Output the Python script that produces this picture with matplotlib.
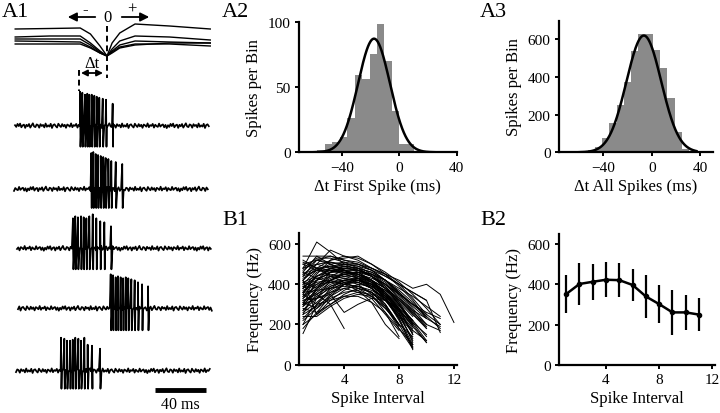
import numpy as np
import matplotlib.pyplot as plt

plt.rcParams['font.family'] = ['Liberation Serif', 'DejaVu Serif']

W, H = 720, 414

# ---------------- A1: example bursts ----------------
# spike times (ms from start of each sweep)
trace_spikes = [
    [51.0, 52.8, 54.9, 56.7, 58.3, 60.2, 62.2, 64.1, 66.1, 68.8, 71.4, 76.6],
    [60.6, 62.2, 64.1, 65.9, 68.0, 70.0, 71.9, 74.0, 76.3, 79.8, 84.9],
    [43.9, 45.7, 47.8, 50.2, 52.3, 54.4, 56.7, 59.4, 62.2, 65.3, 68.5, 73.7],
    [72.7, 74.5, 76.6, 78.4, 80.5, 82.4, 84.5, 86.5, 88.9, 91.5, 94.1, 97.3, 102.0],
    [35.3, 37.9, 40.0, 42.4, 44.5, 46.5, 48.9, 51.0, 53.6, 56.2, 59.6, 65.9],
]
trace_up = [
    [34, 33, 31, 32, 31, 31, 30, 29, 28, 27, 26, 22],
    [36, 37, 35, 34, 33, 32, 31, 30, 28, 27, 25],
    [30, 32, 31, 32, 31, 30, 32, 34, 30, 27, 26, 22],
    [34, 33, 31, 32, 31, 30, 31, 30, 29, 28, 26, 24, 22],
    [33, 32, 30, 30, 31, 33, 32, 30, 33, 26, 25, 22],
]
trace_down = [21, 19, 21, 22, 18]
noise = [0.5, -1.2, 1.8, -0.4, 2.1, -1.6, 0.3, 1.1, -2.2, 0.9, -0.6, 1.7,
         -1.9, 0.2, 2.4, -0.8, -1.4, 1.3, 0.6, -2.0, 1.5, -0.3, 0.8, -1.7,
         2.2, -1.1, 0.4, -0.9, 1.9, -2.3, 0.7, 1.4, -0.5, -1.8, 2.0, 0.1,
         -1.3, 1.6, -0.7, 0.9, -2.1, 1.2, 0.3, -1.0, 2.3, -1.5, 0.6, -0.2,
         1.8, -1.9, 1.0, -0.4, -1.2, 2.1, -0.9, 0.5, 1.3, -1.6, 0.8, -2.4]
sweep_ms = 152

# averaged field waveforms aligned on trough (ms, amplitude above trough)
wave_t = [-72, -45, -21, -13, -5.5, 0, 4, 10, 22, 49, 81]
waves = [
    [27, 27.5, 28, 22, 10, 0, 13, 23, 32, 30, 27],
    [19, 20, 20, 13, 5, 0, 7, 15, 20, 19, 16],
    [17, 17, 17, 11, 4, 0, 5, 11, 15, 14, 13],
    [15, 14.5, 14, 9, 3, 0, 4, 9, 12, 12, 10],
    [12, 12, 12, 8, 3, 0, 3, 8, 11, 13, 13],
]

# ---------------- A2 / A3 histograms ----------------
a2_bin_start = [-62.4, -57.2, -52.0, -46.8, -41.6, -36.4, -31.2, -26.0, -20.8,
                -15.6, -10.4, -5.2, 0.0, 5.2, 10.4]
a2_counts = [1, 2, 6, 8, 12, 26, 59, 56, 75, 98, 70, 32, 6, 6, 1]
a2_fit = (87, -17.7, 11.1)  # amplitude, mean, sd

a3_bin_start = [-65, -59, -53, -47, -41, -35, -29, -23, -17, -11, -5, 1, 7,
                13, 19, 25, 31]
a3_counts = [3, 5, 10, 30, 75, 156, 251, 371, 538, 627, 627, 545, 450, 290,
             110, 20, 8]
a3_fit = (620, -6.5, 14.4)

# ---------------- B1: instantaneous frequency per burst ----------------
b1_bursts = [
    [540, 540, 540, 520, 510, 480, 450, 420, 380, 400, 350, 210],
    [480, 610, 560, 500, 470, 440, 400, 350, 300, 260, 230],
    [420, 500, 570, 540, 520, 480, 440, 400, 360, 320, 160],
    [350, 450, 520, 530, 540, 500, 450, 390, 320, 230],
    [300, 420, 480, 500, 490, 450, 400, 330, 250, 180],
    [250, 380, 460, 490, 480, 440, 380, 300, 200],
    [200, 330, 420, 460, 460, 420, 350, 250, 120],
    [155, 300, 380, 420, 430, 400, 330, 220, 90],
    [380, 460, 480, 470, 450, 410, 350, 260, 110],
    [450, 500, 510, 490, 460, 420, 360, 280, 150],
    [520, 480, 440, 410, 380, 340, 280, 200],
    [330, 400, 440, 450, 430, 380, 300, 190],
    [270, 350, 400, 420, 400, 350, 260, 140],
    [400, 430, 450, 440, 420, 380, 320, 240, 160],
    [470, 520, 500, 470, 440, 400, 330, 230, 75],
    [360, 420, 460, 470, 450, 410, 340, 230, 100],
    [310, 280, 350, 400, 420, 400, 350, 280, 190],
    [420, 250, 300, 350, 380, 360, 300, 200, 85],
    [230, 300, 360, 400, 410, 380, 320, 230],
    [390, 350, 300, 180],
    [300, 330, 350, 260, 300, 330, 320, 280, 220],
    [350, 300, 320, 340, 340, 310, 260, 180, 100],
    [440, 470, 490, 480, 470, 450, 420, 380, 340, 290, 240],
    [500, 520, 510, 500, 490, 470, 440, 400, 360, 320],
    [460, 540, 500, 470, 430, 390, 340, 280],
    [280, 260, 300, 340, 360, 350, 320, 270, 210, 150],
    [330, 380, 420, 440, 440, 420, 380, 320, 250, 190],
    [410, 440, 460, 460, 450, 430, 400, 350, 300, 250, 200],
    [380, 410, 420, 400, 370, 310, 200, 130],
    [260, 310, 370, 410, 420, 400, 370, 320, 260, 200],
    [430, 470, 470, 450, 430, 390, 340, 270, 200],
    [340, 390, 430, 450, 460, 440, 400, 340, 260, 200],
    [290, 340, 380, 400, 390, 360, 300, 200],
    [480, 500, 480, 460, 440, 410, 370, 310, 240],
    [370, 400, 410, 420, 420, 400, 360, 300, 220, 140],
    [320, 330, 360, 380, 360, 330, 250, 170],
    [410, 380, 420, 450, 460, 450, 420, 370, 310, 240, 180],
    [200, 250, 320, 370, 400, 390, 350, 290, 220],
    [450, 480, 490, 500, 500, 480, 450, 400, 330, 250],
    [300, 360, 410, 430, 420, 390, 340, 270, 190, 110],
    [360, 440, 480, 490, 480, 460, 420, 360, 280, 200, 170],
    [240, 240, 290, 330, 350, 340, 290, 200],
    [510, 480, 470, 460, 450, 420, 380, 330, 270, 230],
    [390, 420, 440, 430, 410, 380, 330, 250, 170, 120],
    [180, 260, 340, 400, 430, 420, 380, 300, 200, 110],
    [420, 480, 520, 540, 530, 500, 460, 410, 350, 280, 200],
    [310, 370, 420, 450, 450, 420, 360, 270, 150],
    [460, 430, 410, 400, 390, 370, 330, 260, 180],
    [250, 290, 340, 380, 390, 360, 290, 180, 80],
    [380, 440, 470, 480, 470, 440, 390, 310, 210, 120],
    [500, 470, 460, 470, 470, 450, 410, 350],
    [340, 420, 460, 480, 480, 460, 420, 360, 290, 230, 190],
    [290, 380, 440, 470, 470, 440, 390, 320],
    [440, 520, 540, 520, 500, 470, 420, 360, 300, 240],
    [220, 280, 330, 360, 370, 340, 280, 200, 140],
    [360, 370, 380, 390, 380, 360, 320, 250, 170],
    [400, 470, 500, 510, 500, 470, 420, 350, 270, 180],
    [270, 330, 390, 420, 430, 410, 360, 290],
    [480, 530, 530, 510, 480, 440, 380, 300, 200],
    [320, 350, 390, 410, 410, 380, 330, 240, 130],
]

# ---------------- B2: mean +/- SD ----------------
b2_interval = [1, 2, 3, 4, 5, 6, 7, 8, 9, 10, 11]
b2_mean = [352, 402, 413, 423, 421, 397, 340, 302, 261, 261, 250]
b2_sd = [93, 102, 88, 86, 86, 78, 106, 96, 111, 87, 83]

fig = plt.figure(figsize=(W / 100, H / 100), dpi=100)


def box(left, top, right, bottom):
    return [left / W, 1 - bottom / H, (right - left) / W, (bottom - top) / H]


def style(ax):
    for s in ('top', 'right'):
        ax.spines[s].set_visible(False)
    for s in ('left', 'bottom'):
        ax.spines[s].set_linewidth(1.6)
    ax.tick_params(direction='out', length=3, width=1.4, labelsize=11, pad=3)


# ---- A1 ----
ax = fig.add_axes([0, 0, 235 / W, 1])
ax.set_xlim(0, 235)
ax.set_ylim(H, 0)
ax.axis('off')
px_ms = 1.275
x0s = [15, 14, 17, 18, 16]
bases = [126.7, 190, 249.3, 309.3, 371.7]
nz = np.array(noise)
for i, (spk, up) in enumerate(zip(trace_spikes, trace_up)):
    t = np.arange(0, sweep_ms + 1, 1.0)
    v = np.resize(np.roll(nz, 11 * i), t.size)
    ts = [t]
    vs = [v]
    for s, a in zip(spk, up):
        ts.append(np.array([s, s + 0.35]))
        vs.append(np.array([a, -trace_down[i]]))
    tt = np.concatenate(ts)
    vv = np.concatenate(vs)
    order = np.argsort(tt, kind='stable')
    ax.plot(x0s[i] + tt[order] * px_ms, bases[i] - vv[order], color='k', lw=1.25)

trough_x, trough_y = 107, 57
for w in waves:
    ax.plot(trough_x + np.array(wave_t) * px_ms, trough_y - np.array(w),
            color='k', lw=1.0)
ax.plot([trough_x, trough_x], [27, 79], color='k', lw=1.4, ls=(0, (3, 2)))
ax.plot([79, 79], [71, 92], color='k', lw=1.4, ls=(0, (3, 2)))
ax.annotate('', xy=(65, 18), xytext=(98, 18),
            arrowprops=dict(arrowstyle='-|>', color='k', lw=1.3, mutation_scale=13))
ax.annotate('', xy=(152, 18), xytext=(119, 18),
            arrowprops=dict(arrowstyle='-|>', color='k', lw=1.3, mutation_scale=13))
ax.text(107, 18, '0', ha='center', va='center', fontsize=12)
ax.text(85, 10, '-', ha='center', va='center', fontsize=12)
ax.text(132, 10, '+', ha='center', va='center', fontsize=12)
ax.annotate('', xy=(81, 74), xytext=(103, 74),
            arrowprops=dict(arrowstyle='<|-|>', color='k', lw=1.3, mutation_scale=9,
                            shrinkA=0, shrinkB=0))
ax.text(92, 64, '\u0394t', ha='center', va='center', fontsize=12)
ax.plot([155, 206], [391, 391], color='k', lw=3.5, solid_capstyle='butt')
ax.text(180.5, 405, '40 ms', ha='center', va='center', fontsize=11.5)

# ---- A2 ----
ax2 = fig.add_axes(box(299, 22.7, 456.8, 153.3))
ax2.bar(a2_bin_start, a2_counts, width=5.2, align='edge', color='#8a8a8a', lw=0)
xf = np.linspace(-60, 25, 300)
amp, mu, sd = a2_fit
ax2.plot(xf, amp * np.exp(-0.5 * ((xf - mu) / sd) ** 2), color='k', lw=1.8)
ax2.set_xlim(-70, 40)
ax2.set_ylim(0, 100)
ax2.set_xticks([-40, 0, 40])
ax2.set_yticks([0, 50, 100])
ax2.set_xlabel('\u0394t First Spike (ms)', fontsize=12, labelpad=3)
ax2.set_ylabel('Spikes per Bin', fontsize=12, labelpad=4)
style(ax2)

# ---- A3 ----
ax3 = fig.add_axes(box(559, 21.5, 713, 153.3))
ax3.bar(a3_bin_start, a3_counts, width=6, align='edge', color='#8a8a8a', lw=0)
xf = np.linspace(-60, 37, 300)
amp, mu, sd = a3_fit
ax3.plot(xf, amp * np.exp(-0.5 * ((xf - mu) / sd) ** 2), color='k', lw=1.8)
ax3.set_xlim(-76.7, 50.7)
ax3.set_ylim(0, 700)
ax3.set_xticks([-40, 0, 40])
ax3.set_yticks([0, 200, 400, 600])
ax3.set_xlabel('\u0394t All Spikes (ms)', fontsize=12, labelpad=3)
ax3.set_ylabel('Spikes per Bin', fontsize=12, labelpad=4)
style(ax3)

# ---- B1 ----
ax4 = fig.add_axes(box(299.3, 234, 456.7, 365.7))
for b in b1_bursts:
    ax4.plot(np.arange(1, len(b) + 1), b, color='k', lw=0.7)
ax4.set_xlim(0.73, 12.2)
ax4.set_ylim(0, 655)
ax4.set_xticks([4, 8, 12])
ax4.set_yticks([0, 200, 400, 600])
ax4.set_xlabel('Spike Interval', fontsize=12, labelpad=3)
ax4.set_ylabel('Frequency (Hz)', fontsize=12, labelpad=4)
style(ax4)

# ---- B2 ----
ax5 = fig.add_axes(box(559, 235, 715, 366))
ax5.errorbar(b2_interval, b2_mean, yerr=b2_sd, fmt='-o', color='k', ms=3,
             lw=1.8, elinewidth=1.6, capsize=0)
ax5.set_xlim(0.46, 12.2)
ax5.set_ylim(0, 650)
ax5.set_xticks([4, 8, 12])
ax5.set_yticks([0, 200, 400, 600])
ax5.set_xlabel('Spike Interval', fontsize=12, labelpad=3)
ax5.set_ylabel('Frequency (Hz)', fontsize=12, labelpad=4)
style(ax5)

for lab, x, y in [('A1', 2, 17), ('A2', 222, 17), ('A3', 480, 17),
                  ('B1', 222, 225), ('B2', 480, 225)]:
    fig.text(x / W, 1 - y / H, lab, fontsize=16, va='baseline', ha='left')

fig.savefig('out.png', dpi=100)
